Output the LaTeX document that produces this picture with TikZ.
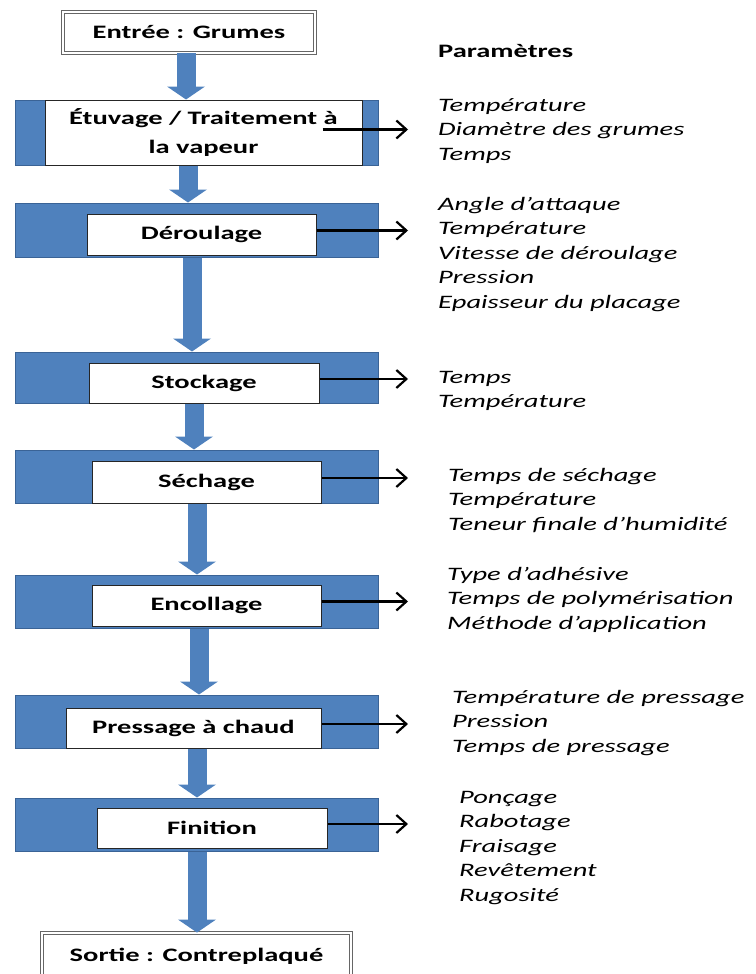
\documentclass[tikz,border=0pt]{standalone}
\usepackage{fontspec}
\newfontfamily\calib{Carlito}[FakeStretch=1.5]
\usetikzlibrary{arrows.meta,positioning}
\definecolor{barblue}{HTML}{4F81BD}
\definecolor{baredge}{HTML}{3A6396}
\tikzset{
  bar/.style={draw=baredge,fill=barblue,line width=1pt,inner sep=0pt},
  stepbox/.style={draw=black!85,fill=white,line width=1pt,inner sep=0pt,
    font=\calib\bfseries\fontsize{19}{29}\selectfont,align=center},
  iobox/.style={draw=black!60,double=white,double distance=1.6pt,line width=0.9pt,
    fill=white,inner sep=0pt,font=\calib\bfseries\fontsize{19}{24}\selectfont},
  params/.style={font=\calib\itshape\fontsize{19}{24.5}\selectfont,align=left,
    anchor=base west,inner sep=0pt},
  flow/.style={draw=barblue,line width=19pt,-{Triangle[width=38pt,length=13pt,line width=0pt]}},
  out_arr/.style={draw=black,line width=2.2pt,-{Straight Barb[length=10pt,width=18pt]}},
}
\begin{document}
\begin{tikzpicture}[x=1pt,y=-1pt]
  \useasboundingbox (0,0) rectangle (755,974);

  % entree / sortie
  \node[iobox,minimum width=252pt,minimum height=41pt] (entree) at (189,32.5) {Entrée : Grumes};
  \node[iobox,minimum width=309pt,minimum height=46pt] (sortie) at (196.5,956) {Sortie : Contreplaqué};

  % blue bars
  \node[bar,minimum width=363pt,minimum height=65pt] (b1) at (196.5,132.5) {};
  \node[bar,minimum width=363pt,minimum height=54pt] (b2) at (196.5,230) {};
  \node[bar,minimum width=363pt,minimum height=51pt] (b3) at (196.5,377.5) {};
  \node[bar,minimum width=363pt,minimum height=53pt] (b4) at (196.5,476.5) {};
  \node[bar,minimum width=363pt,minimum height=53pt] (b5) at (196.5,601.5) {};
  \node[bar,minimum width=363pt,minimum height=53pt] (b6) at (196.5,721.5) {};
  \node[bar,minimum width=363pt,minimum height=53pt] (b7) at (196.5,824.5) {};

  % steps
  \node[stepbox,minimum width=317pt,minimum height=65pt] (s1) at (203.5,132.5) {Étuvage / Traitement à\\la vapeur};
  \node[stepbox,minimum width=229pt,minimum height=41pt] (s2) at (201.5,234.5) {Déroulage};
  \node[stepbox,minimum width=230pt,minimum height=40pt] (s3) at (204,383) {Stockage};
  \node[stepbox,minimum width=229pt,minimum height=42pt] (s4) at (206.5,482) {Séchage};
  \node[stepbox,minimum width=229pt,minimum height=41pt] (s5) at (206.5,605.5) {Encollage};
  \node[stepbox,minimum width=255pt,minimum height=40pt] (s6) at (193.5,728) {Pressage à chaud};
  \node[stepbox,minimum width=230pt,minimum height=40pt] (s7) at (212,828) {Finition};

  % flow
  \foreach \a/\b/\x in {entree/b1/186,b1/b2/188,b2/b3/192,b3/b4/194,b4/b5/197,b5/b6/199,b6/b7/197,b7/sortie/197}{
    \coordinate (fx) at (\x,0);
    \draw[flow] (\a.south -| fx) -- (\b.north -| fx);
  }

  % parameters (anchored on the last line)
  \node[params,font=\calib\bfseries\fontsize{19}{24.5}\selectfont] (ptitle) at (438,58) {Paramètres};
  \node[params] (p1) at (438,160) {Température\\Diamètre des grumes\\Temps};
  \node[params] (p2) at (438,308) {Angle d’attaque\\Température\\Vitesse de déroulage\\Pression\\Epaisseur du placage};
  \node[params] (p3) at (438,407.5) {Temps\\Température};
  \node[params] (p4) at (448,530) {Temps de séchage\\Température\\Teneur finale d’humidité};
  \node[params] (p5) at (447,629) {Type d’adhésive\\Temps de polymérisation\\Méthode d’application};
  \node[params] (p6) at (452,752) {Température de pressage\\Pression\\Temps de pressage};
  \node[params] (p7) at (459,901) {Ponçage\\Rabotage\\Fraisage\\Revêtement\\Rugosité};

  \coordinate (tip) at (408,0);
  \draw[out_arr] ([xshift=-40pt,yshift=3pt]s1.east) coordinate (o1) -- (o1 -| tip);
  \foreach \i in {2,...,7}
    \draw[out_arr] ([yshift=4pt]s\i.east) coordinate (o\i) -- (o\i -| tip);
\end{tikzpicture}
\end{document}
